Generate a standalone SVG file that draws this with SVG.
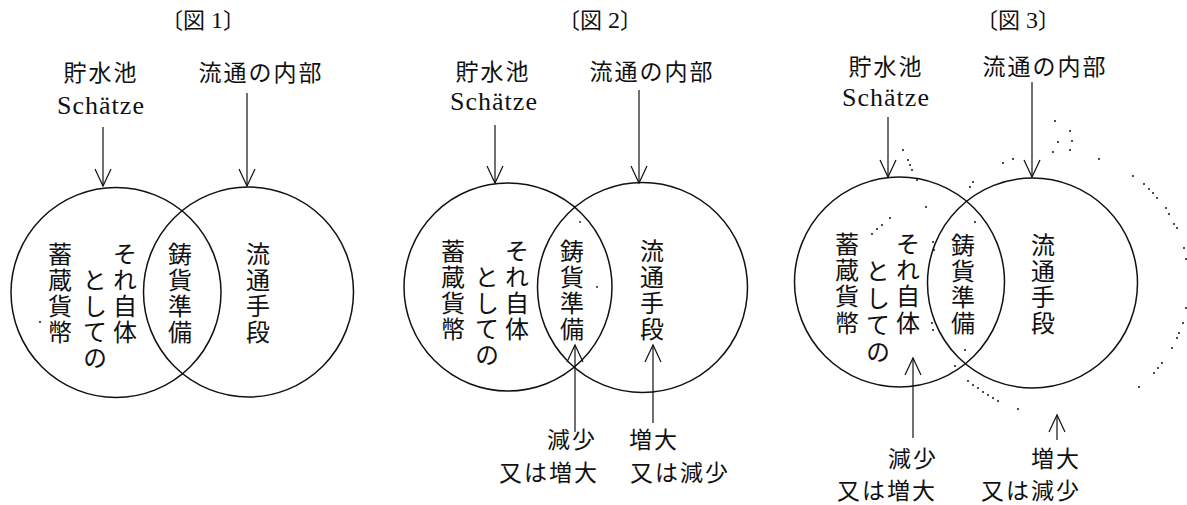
<svg xmlns="http://www.w3.org/2000/svg" width="1187" height="505" viewBox="0 0 1187 505">
<style>
.bg{fill:#fff}
.jp{font-family:"Noto Sans CJK JP","Noto Sans CJK SC",sans-serif;font-size:23px;fill:#111;text-anchor:middle;letter-spacing:2px}
.v{font-family:"Noto Sans CJK JP","Noto Sans CJK SC",sans-serif;font-size:24px;fill:#111;writing-mode:vertical-rl;text-anchor:start}
.de{font-family:"Liberation Serif","DejaVu Serif",serif;font-size:26px;fill:#111;text-anchor:middle;letter-spacing:1px}
.ti{font-family:"Noto Sans CJK JP",sans-serif;font-size:22px;fill:#111;text-anchor:middle}
.num{font-family:"Liberation Serif",serif}
.c{fill:none;stroke:#111;stroke-width:1.5}
.a{fill:none;stroke:#111;stroke-width:1.2;marker-end:url(#ah)}
.dot{fill:#111}
</style>
<defs>
<marker id="ah" markerUnits="userSpaceOnUse" viewBox="-20 -10 22 20" markerWidth="22" markerHeight="20" refX="0" refY="0" orient="auto" overflow="visible">
<path d="M-17,-8 L0,0 L-17,8" fill="none" stroke="#111" stroke-width="1.2"/>
</marker>
</defs>
<rect class="bg" x="0" y="0" width="1187" height="505"/>

<!-- Figure 1 -->
<g id="fig1-title"><text class="ti" x="203" y="28">〔図<tspan class="num" font-size="24"> 1</tspan>〕</text></g>
<g id="fig1-reservoir"><text class="jp" x="101" y="81">貯水池</text><text class="de" x="101" y="114">Schätze</text></g>
<g id="fig1-inner"><text class="jp" x="261" y="81">流通の内部</text></g>
<g id="fig1-circle-left"><circle class="c" cx="116" cy="292.5" r="105"/></g>
<g id="fig1-circle-right"><circle class="c" cx="248.5" cy="292" r="105"/></g>
<g id="fig1-hoard"><text class="v" x="60" y="242">蓄</text><text class="v" x="60" y="268">蔵</text><text class="v" x="60" y="294">貨</text><text class="v" x="60" y="320">幣</text></g>
<g id="fig1-itself"><text class="v" x="125" y="242">そ</text><text class="v" x="125" y="268">れ</text><text class="v" x="125" y="294">自</text><text class="v" x="125" y="320">体</text><text class="v" x="95" y="268">と</text><text class="v" x="95" y="294">し</text><text class="v" x="95" y="320">て</text><text class="v" x="95" y="346">の</text></g>
<g id="fig1-reserve"><text class="v" x="180" y="242">鋳</text><text class="v" x="180" y="268">貨</text><text class="v" x="180" y="294">準</text><text class="v" x="180" y="320">備</text></g>
<g id="fig1-means"><text class="v" x="258" y="242">流</text><text class="v" x="258" y="268">通</text><text class="v" x="258" y="294">手</text><text class="v" x="258" y="320">段</text></g>
<circle class="dot" cx="40" cy="322" r="1"/>

<!-- Figure 2 -->
<g id="fig2-title"><text class="ti" x="600" y="28">〔図<tspan class="num" font-size="24"> 2</tspan>〕</text></g>
<g id="fig2-reservoir"><text class="jp" x="493" y="80">貯水池</text><text class="de" x="494" y="110">Schätze</text></g>
<g id="fig2-inner"><text class="jp" x="652" y="80">流通の内部</text></g>
<g id="fig2-circle-left"><circle class="c" cx="508" cy="287" r="104"/></g>
<g id="fig2-circle-right"><circle class="c" cx="642.5" cy="287.5" r="105"/></g>
<g id="fig2-hoard"><text class="v" x="453" y="239">蓄</text><text class="v" x="453" y="265">蔵</text><text class="v" x="453" y="291">貨</text><text class="v" x="453" y="317">幣</text></g>
<g id="fig2-itself"><text class="v" x="517" y="239">そ</text><text class="v" x="517" y="265">れ</text><text class="v" x="517" y="291">自</text><text class="v" x="517" y="317">体</text><text class="v" x="487" y="265">と</text><text class="v" x="487" y="291">し</text><text class="v" x="487" y="317">て</text><text class="v" x="487" y="343">の</text></g>
<g id="fig2-reserve"><text class="v" x="572" y="239">鋳</text><text class="v" x="572" y="265">貨</text><text class="v" x="572" y="291">準</text><text class="v" x="572" y="317">備</text></g>
<g id="fig2-means"><text class="v" x="652" y="239">流</text><text class="v" x="652" y="265">通</text><text class="v" x="652" y="291">手</text><text class="v" x="652" y="317">段</text></g>
<g id="fig2-label-left"><text class="jp" x="572" y="448">減少</text><text class="jp" x="549" y="481">又は増大</text></g>
<g id="fig2-label-right"><text class="jp" x="654" y="448">増大</text><text class="jp" x="680" y="481">又は減少</text></g>
<circle class="dot" cx="580" cy="222" r="0.9"/>
<circle class="dot" cx="597" cy="287" r="0.9"/>

<!-- Figure 3 -->
<g id="fig3-title"><text class="ti" x="1018" y="28">〔図<tspan class="num" font-size="24"> 3</tspan>〕</text></g>
<g id="fig3-reservoir"><text class="jp" x="886" y="75">貯水池</text><text class="de" x="886" y="106">Schätze</text></g>
<g id="fig3-inner"><text class="jp" x="1045" y="75">流通の内部</text></g>
<g id="fig3-circle-left"><circle class="c" cx="899.5" cy="282" r="105"/></g>
<g id="fig3-circle-right"><circle class="c" cx="1032.5" cy="283" r="105"/></g>
<g id="fig3-hoard"><text class="v" x="847" y="232">蓄</text><text class="v" x="847" y="258">蔵</text><text class="v" x="847" y="284">貨</text><text class="v" x="847" y="311">幣</text></g>
<g id="fig3-itself"><text class="v" x="908" y="232">そ</text><text class="v" x="908" y="258">れ</text><text class="v" x="908" y="284">自</text><text class="v" x="908" y="311">体</text><text class="v" x="878" y="259">と</text><text class="v" x="878" y="286">し</text><text class="v" x="878" y="313">て</text><text class="v" x="878" y="340">の</text></g>
<g id="fig3-reserve"><text class="v" x="963" y="233">鋳</text><text class="v" x="963" y="259">貨</text><text class="v" x="963" y="285">準</text><text class="v" x="963" y="311">備</text></g>
<g id="fig3-means"><text class="v" x="1043" y="233">流</text><text class="v" x="1043" y="259">通</text><text class="v" x="1043" y="285">手</text><text class="v" x="1043" y="311">段</text></g>
<g id="fig3-label-left"><text class="jp" x="913" y="467">減少</text><text class="jp" x="887" y="499">又は増大</text></g>
<g id="fig3-label-right"><text class="jp" x="1056" y="467">増大</text><text class="jp" x="1031" y="499">又は減少</text></g>
<g id="fig3-dotted">
<circle class="dot" cx="903" cy="150" r="1"/><circle class="dot" cx="908" cy="160" r="1"/><circle class="dot" cx="910" cy="165" r="1"/><circle class="dot" cx="912" cy="170" r="1"/><circle class="dot" cx="917" cy="180" r="1"/>
<circle class="dot" cx="926" cy="207" r="1"/><circle class="dot" cx="890" cy="218" r="1"/><circle class="dot" cx="882" cy="225" r="1"/><circle class="dot" cx="877" cy="229" r="1"/><circle class="dot" cx="872" cy="234" r="1"/>
<circle class="dot" cx="1003" cy="163" r="1"/><circle class="dot" cx="1013" cy="159" r="1"/><circle class="dot" cx="973" cy="182" r="1"/><circle class="dot" cx="970" cy="187" r="1"/><circle class="dot" cx="975" cy="222" r="1"/>
<circle class="dot" cx="1055" cy="121" r="1"/><circle class="dot" cx="1070" cy="131" r="1"/><circle class="dot" cx="1058" cy="142" r="1"/><circle class="dot" cx="1072" cy="141" r="1"/><circle class="dot" cx="1053" cy="152" r="1"/><circle class="dot" cx="1070" cy="150" r="1"/><circle class="dot" cx="1099" cy="159" r="1"/>
<circle class="dot" cx="1133" cy="176" r="1"/><circle class="dot" cx="1144" cy="184" r="1"/><circle class="dot" cx="1149" cy="189" r="1"/><circle class="dot" cx="1153" cy="193" r="1"/><circle class="dot" cx="1157" cy="198" r="1"/><circle class="dot" cx="1166" cy="208" r="1"/><circle class="dot" cx="1169" cy="214" r="1"/><circle class="dot" cx="1174" cy="224" r="1"/><circle class="dot" cx="1177" cy="228" r="1"/><circle class="dot" cx="1184" cy="248" r="1"/><circle class="dot" cx="1186" cy="259" r="1"/><circle class="dot" cx="1186" cy="308" r="1"/><circle class="dot" cx="1183" cy="323" r="1"/><circle class="dot" cx="1179" cy="333" r="1"/><circle class="dot" cx="1177" cy="338" r="1"/><circle class="dot" cx="1172" cy="348" r="1"/><circle class="dot" cx="1162" cy="363" r="1"/><circle class="dot" cx="1158" cy="368" r="1"/><circle class="dot" cx="1154" cy="373" r="1"/><circle class="dot" cx="1139" cy="387" r="1"/>
<circle class="dot" cx="965" cy="350" r="1"/><circle class="dot" cx="955" cy="366" r="1"/><circle class="dot" cx="968" cy="381" r="1"/><circle class="dot" cx="973" cy="385" r="1"/><circle class="dot" cx="978" cy="388" r="1"/><circle class="dot" cx="983" cy="392" r="1"/><circle class="dot" cx="988" cy="395" r="1"/><circle class="dot" cx="993" cy="398" r="1"/><circle class="dot" cx="998" cy="401" r="1"/><circle class="dot" cx="1018" cy="409" r="1"/>
<circle class="dot" cx="933" cy="242" r="1"/><circle class="dot" cx="934" cy="250" r="1"/><circle class="dot" cx="932" cy="323" r="1"/><circle class="dot" cx="933" cy="330" r="1"/>
</g>

<g id="connectors">
<line class="a" x1="103" y1="127" x2="103" y2="186"/>
<line class="a" x1="247" y1="93" x2="247" y2="186"/>
<line class="a" x1="495" y1="125" x2="495" y2="183"/>
<line class="a" x1="639" y1="90" x2="639" y2="183"/>
<line class="a" x1="575" y1="432" x2="575" y2="345"/>
<line class="a" x1="653" y1="423" x2="653" y2="345"/>
<line class="a" x1="888" y1="117" x2="888" y2="177"/>
<line class="a" x1="1032" y1="82" x2="1032" y2="177"/>
<line class="a" x1="913" y1="438" x2="913" y2="358"/>
<line class="a" x1="1057" y1="440" x2="1057" y2="415"/>
</g>
</svg>
